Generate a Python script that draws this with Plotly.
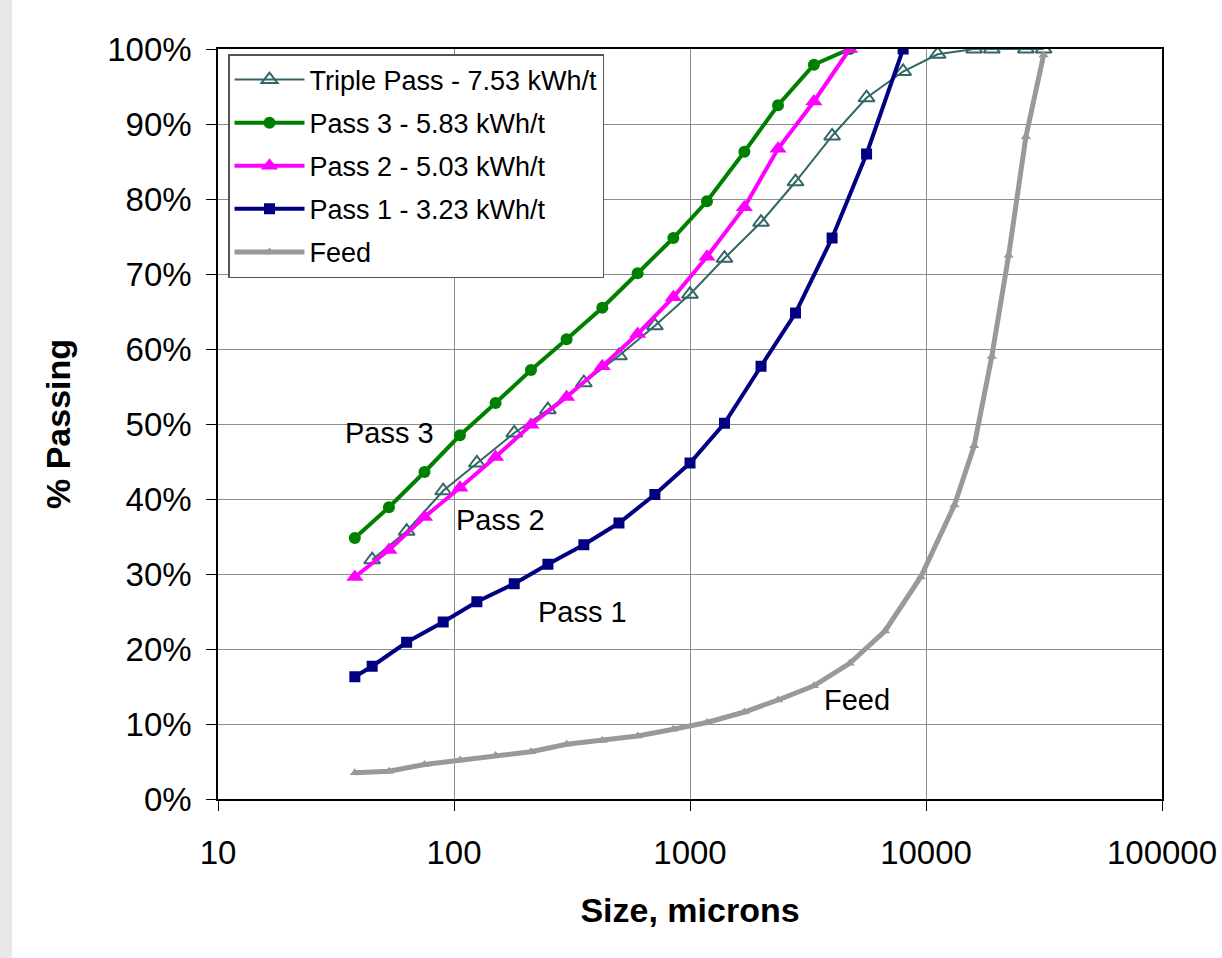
import numpy as np
import plotly.graph_objects as go

# Sieve sizes (microns) and cumulative % passing for each grind
triple_size = [45, 63, 90, 125, 180, 250, 355, 500, 710, 1000, 1400, 2000, 2800,
               4000, 5600, 8000, 11200, 16000, 19000, 26500, 31500]
triple_pass = [31.9, 35.7, 41.1, 44.8, 48.8, 51.9, 55.5, 59.1, 63.1, 67.3, 72.1, 76.9,
               82.3, 88.4, 93.5, 97.0, 99.3, 100, 100, 100, 100]

pass3_size = [38, 53, 75, 106, 150, 212, 300, 425, 600, 850, 1180, 1700, 2360, 3350, 4750]
pass3_pass = [34.8, 38.9, 43.6, 48.5, 52.8, 57.2, 61.3, 65.5, 70.1, 74.8, 79.7, 86.3,
              92.5, 97.9, 100]

pass2_size = [38, 53, 75, 106, 150, 212, 300, 425, 600, 850, 1180, 1700, 2360, 3350, 4750]
pass2_pass = [29.6, 33.2, 37.6, 41.5, 45.6, 49.9, 53.6, 57.7, 62.0, 66.9, 72.3, 78.9,
              86.7, 93.0, 100]

pass1_size = [38, 45, 63, 90, 125, 180, 250, 355, 500, 710, 1000, 1400, 2000, 2800,
              4000, 5600, 8000]
pass1_pass = [16.3, 17.7, 20.9, 23.6, 26.3, 28.7, 31.3, 33.9, 36.8, 40.6, 44.8, 50.1,
              57.7, 64.8, 74.8, 86.0, 100]

feed_size = [38, 53, 75, 106, 150, 212, 300, 425, 600, 850, 1180, 1700, 2360, 3350,
             4750, 6700, 9500, 13200, 16000, 19000, 22400, 26500, 31500]
feed_pass = [3.5, 3.7, 4.6, 5.2, 5.8, 6.3, 7.3, 7.8, 8.4, 9.3, 10.2, 11.6, 13.2, 15.1,
             18.1, 22.4, 29.6, 39.2, 47.1, 59.0, 72.5, 88.3, 99.2]

x_ticks = [10, 100, 1000, 10000, 100000]
x_ticktext = ["10", "100", "1000", "10000", "100000"]

FONT = "Liberation Sans, Arial, sans-serif"

fig = go.Figure()

series = [
    ("Triple Pass - 7.53 kWh/t", triple_size, triple_pass,
     dict(color="#336666", width=2),
     dict(symbol="triangle-up-open", size=14, color="#336666", line=dict(width=2, color="#336666"))),
    ("Pass 3 - 5.83 kWh/t", pass3_size, pass3_pass,
     dict(color="#008000", width=4),
     dict(symbol="circle", size=12, color="#008000")),
    ("Pass 2 - 5.03 kWh/t", pass2_size, pass2_pass,
     dict(color="#FF00FF", width=4),
     dict(symbol="triangle-up", size=15, color="#FF00FF")),
    ("Pass 1 - 3.23 kWh/t", pass1_size, pass1_pass,
     dict(color="#000080", width=4),
     dict(symbol="square", size=11, color="#000080")),
    ("Feed", feed_size, feed_pass,
     dict(color="#999999", width=5),
     dict(symbol="triangle-up", size=9, color="#999999")),
]

for i, (name, xs, ys, line, marker) in enumerate(series):
    fig.add_trace(go.Scatter(
        x=xs, y=ys, name=name, mode="lines+markers",
        line=line, marker=marker, legendgroup=f"g{i}",
    ))

# Curve labels placed beside each line
labels = [("Pass 3", 33.9, 48.8), ("Pass 2", 100, 37.2), ("Pass 1", 222, 24.9), ("Feed", 3620, 13.2)]
for text, lx, ly in labels:
    fig.add_annotation(x=np.log10(lx), y=ly, text=text, showarrow=False,
                       xanchor="left", yanchor="middle",
                       font=dict(family=FONT, size=29, color="black"))

# light grey strip down the left edge of the page
fig.add_shape(type="rect", xref="paper", yref="paper",
              x0=-218 / 944, x1=-206 / 944, y0=-159 / 750, y1=49 / 750 + 1,
              fillcolor="#E8E8E8", line=dict(width=0), layer="below")

fig.update_layout(
    width=1222, height=958,
    margin=dict(l=218, r=60, t=49, b=159, autoexpand=False),
    paper_bgcolor="white", plot_bgcolor="white",
    font=dict(family=FONT, color="black"),
    showlegend=True,
    legend=dict(
        x=(228 - 218) / 944, y=1 - (54 - 49) / 750, xanchor="left", yanchor="top",
        bgcolor="white", bordercolor="#555555", borderwidth=1.5,
        font=dict(family=FONT, size=27, color="black"),
        traceorder="grouped", tracegroupgap=5, itemwidth=70,
    ),
    xaxis=dict(
        type="log", range=[1, 5], automargin=False,
        tickvals=x_ticks, ticktext=x_ticktext,
        showgrid=True, gridcolor="#8C8C8C", gridwidth=1,
        showline=True, linecolor="black", linewidth=1.5, mirror=True,
        ticks="outside", ticklen=10, tickcolor="black",
        ticklabelstandoff=14,
        tickfont=dict(family=FONT, size=33, color="black"),
        title=dict(text="<b>Size, microns</b>", font=dict(family=FONT, size=34, color="black"), standoff=28),
        zeroline=False,
    ),
    yaxis=dict(
        range=[0, 100], dtick=10, ticksuffix="%", automargin=False,
        showgrid=True, gridcolor="#8C8C8C", gridwidth=1,
        showline=True, linecolor="black", linewidth=1.5, mirror=True,
        ticks="outside", ticklen=10, tickcolor="black",
        ticklabelstandoff=8,
        tickfont=dict(family=FONT, size=33, color="black"),
        title=dict(text="<b>% Passing</b>", font=dict(family=FONT, size=34, color="black"), standoff=26),
        zeroline=False,
    ),
)

fig.write_html("out.html")
